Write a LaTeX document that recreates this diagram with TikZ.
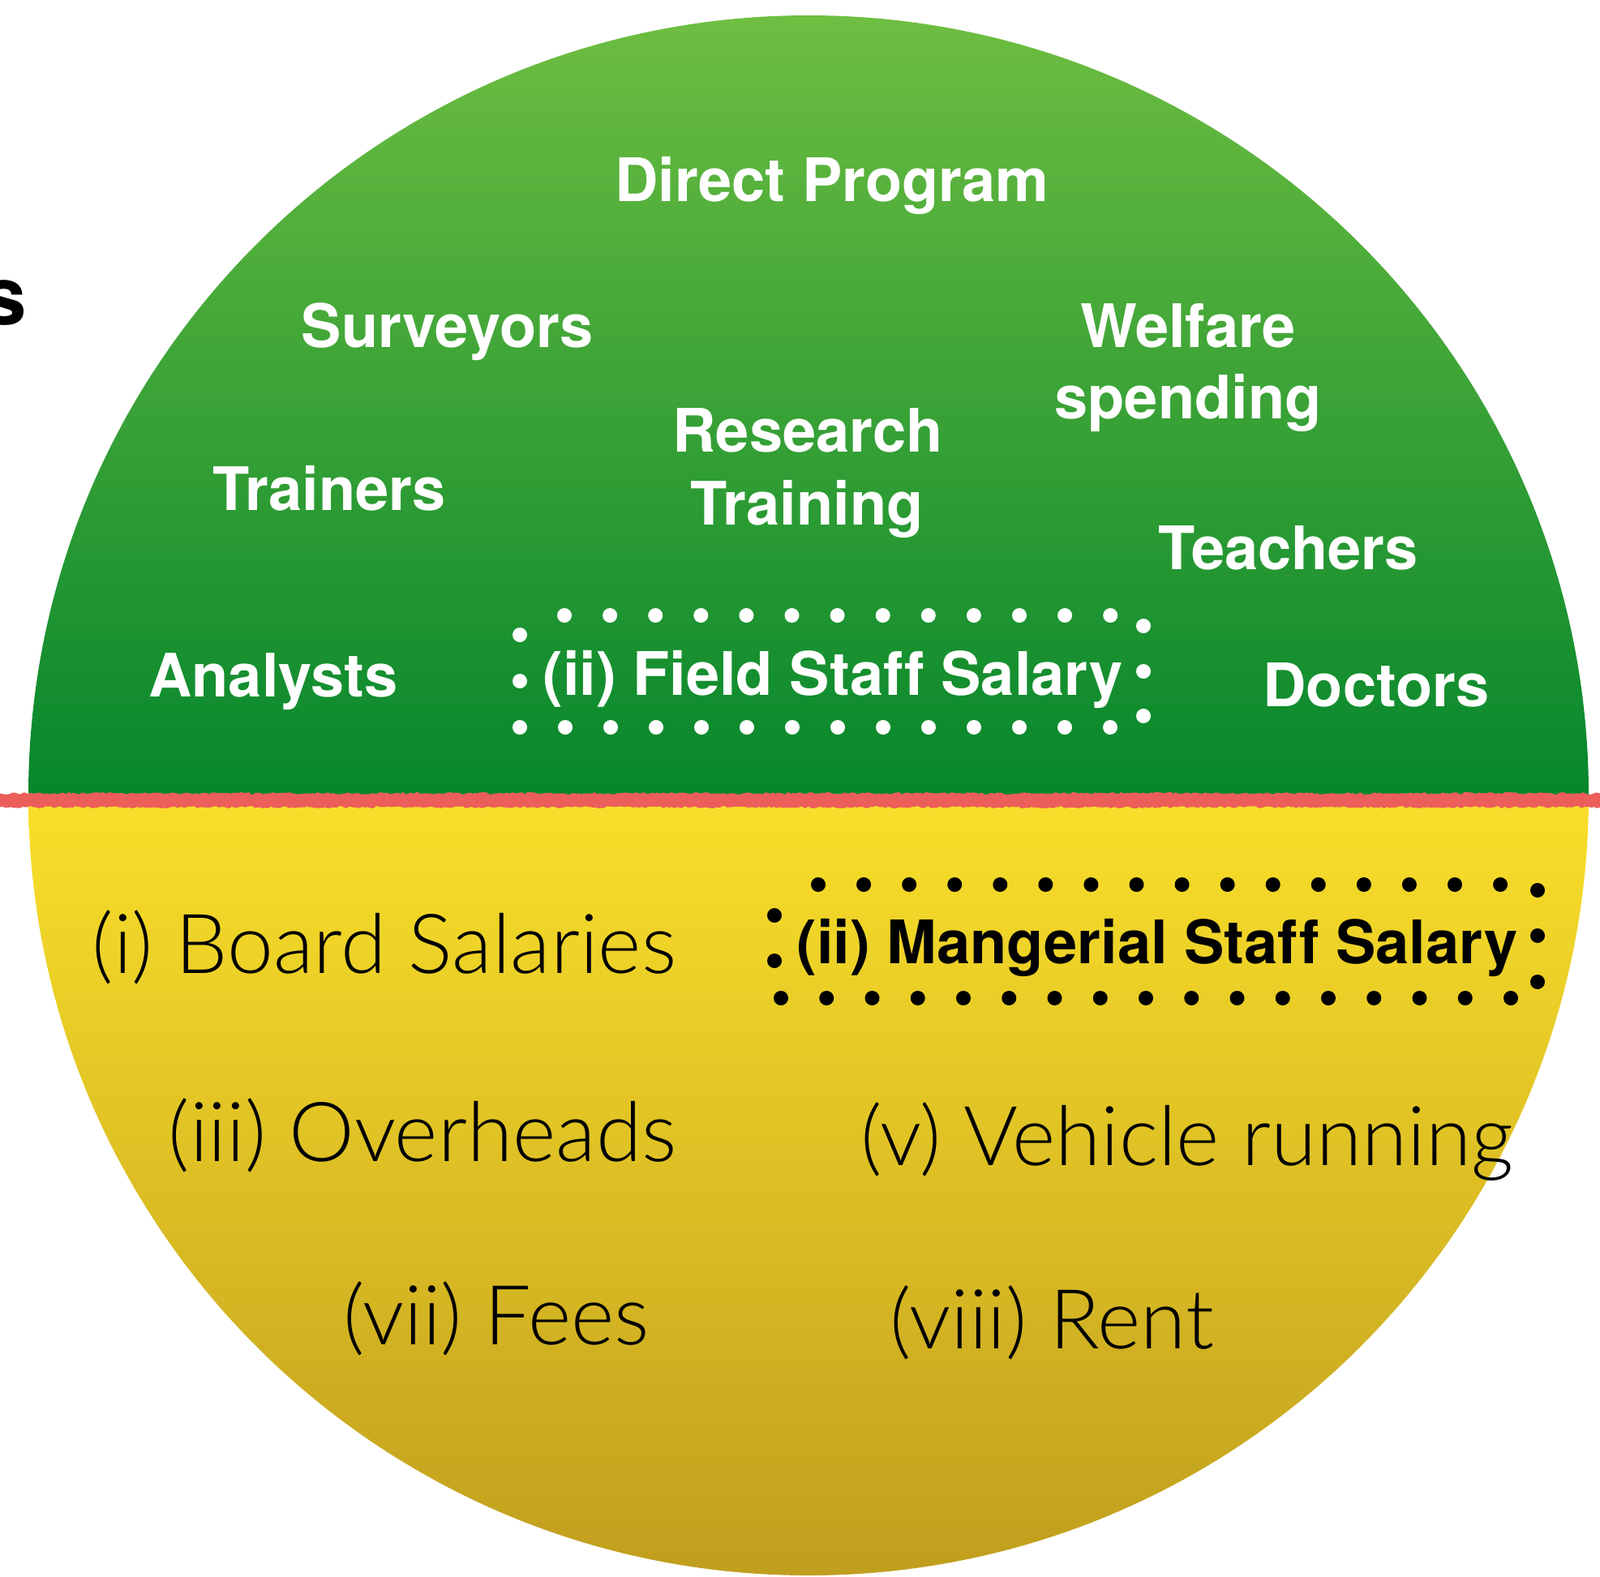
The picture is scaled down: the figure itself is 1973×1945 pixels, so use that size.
\documentclass[tikz,border=0pt]{standalone}
\usepackage{fontspec}
\setmainfont{TeX Gyre Heros}[Ligatures=NoCommon]
\newfontfamily\lightfont{Lato Light}[Ligatures=NoCommon]
\usetikzlibrary{decorations.pathmorphing}
\definecolor{gtop}{RGB}{110,190,65}
\definecolor{gbot}{RGB}{5,134,44}
\definecolor{ytop}{RGB}{249,223,42}
\definecolor{ybot}{RGB}{192,158,30}
\definecolor{redline}{RGB}{236,94,90}
\tikzset{
  wlabel/.style={text=white, inner sep=0pt, anchor=base, font=\bfseries\fontsize{74}{88}\selectfont},
  blabel/.style={text=black, inner sep=0pt, anchor=base, font=\bfseries\fontsize{74}{88}\selectfont},
  llabel/.style={text=black, inner sep=0pt, anchor=base, font=\lightfont\fontsize{102}{115}\selectfont},
  wdot/.style={fill=white},
  bdot/.style={fill=black},
  rough/.style={redline, line join=round, line cap=round, decorate, decoration={random steps, segment length=3pt, amplitude=1.5pt}},
}
\begin{document}
\begin{tikzpicture}[x=1pt,y=-1pt]
\useasboundingbox (0,0) rectangle (1973,1945);
% circle halves
\begin{scope}
  \clip (997,981) circle (962);
  \shade[top color=gtop, bottom color=gbot] (0,19) rectangle (1973,986);
  \shade[top color=ytop, bottom color=ybot] (0,986) rectangle (1973,1945);
\end{scope}
% red rough divider
\draw[rough, line width=12pt] (0,987) -- (1973,987);
\draw[rough, line width=5pt] (0,981) -- (1973,981);
\draw[rough, line width=5pt] (0,993) -- (1973,993);
% partial text at left edge
\node[inner sep=0pt, anchor=base east, font=\bfseries\fontsize{100}{110}\selectfont] (s) at (33,400) {s};
% green labels
\node[wlabel] (direct) at (1026,248) {Direct Program};
\node[wlabel] (surveyors) at (552,428) {Surveyors};
\node[wlabel] (welfare) at (1465,428) {Welfare};
\node[wlabel] (spending) at (1465,516) {spending};
\node[wlabel] (research) at (996,557) {Research};
\node[wlabel] (training) at (995,647) {Training};
\node[wlabel] (trainers) at (406,629) {Trainers};
\node[wlabel] (teachers) at (1589,702) {Teachers};
\node[wlabel] (analysts) at (337,859) {Analysts};
\node[wlabel] (doctors) at (1697,871) {Doctors};
\node[wlabel] (field) at (1027,857) {(ii) Field Staff Salary};
% field dotted frame
\foreach \i in {0,...,12} \fill[wdot] (696+56.1*\i,759) circle (9);
\foreach \i in {0,...,13} \fill[wdot] (641+56*\i,897) circle (9);
\foreach \yy in {783,840} \fill[wdot] (641,\yy) circle (9);
\foreach \yy in {772,828,883} \fill[wdot] (1410,\yy) circle (9);
% yellow labels
\node[blabel] (mang) at (1427,1188) {(ii) Mangerial Staff Salary};
\foreach \i in {0,...,15} \fill[bdot] (1009+56.07*\i,1091) circle (9);
\foreach \i in {0,...,16} \fill[bdot] (963+56.25*\i,1231) circle (9);
\foreach \yy in {1129,1185} \fill[bdot] (955,\yy) circle (9);
\foreach \yy in {1098,1154,1211} \fill[bdot] (1896,\yy) circle (9);
\node[llabel] (board) at (474,1200) {(i) Board Salaries};
\node[llabel] (over) at (521,1432) {(iii) Overheads};
\node[llabel] (vehicle) at (1464,1437) {(v) Vehicle running};
\node[llabel] (fees) at (612,1658) {(vii) Fees};
\node[llabel] (rent) at (1297,1663) {(viii) Rent};
\end{tikzpicture}
\end{document}
